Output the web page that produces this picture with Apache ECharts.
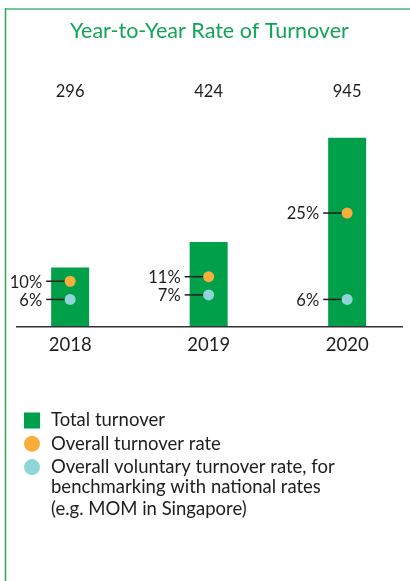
<!DOCTYPE html>
<html>
<head>
<meta charset="utf-8">
<script src="https://cdn.jsdelivr.net/npm/echarts@6/dist/echarts.min.js"></script>
<style>
  html, body { margin: 0; padding: 0; background: #fff; }
  #chart { width: 410px; height: 581px; }
</style>
</head>
<body>
<div id="chart"></div>
<script>
// Yearly figures
const years = ['2018', '2019', '2020'];
const totalTurnover = [296, 424, 945];
const overallRate = [10, 11, 25];
const voluntaryRate = [6, 7, 6];

const seriesNames = [
  'Total turnover',
  'Overall turnover rate',
  'Overall voluntary turnover rate, for benchmarking with national rates (e.g. MOM in Singapore)'
];
const voluntaryLegendLines = [
  'Overall voluntary turnover rate, for',
  'benchmarking with national rates',
  '(e.g. MOM in Singapore)'
];

const GREEN = '#00a04b';
const ORANGE = '#f9ad3c';
const TEAL = '#8fd4d6';
const INK = '#1e1e1e';
const FONT = 'Lato';

const chart = echarts.init(document.getElementById('chart'));

// Dot with a short leader line and a percentage label on its left
function rateItem(params, api) {
  const p = api.coord([api.value(0), api.value(1)]);
  return {
    type: 'group',
    children: [
      {
        type: 'line',
        shape: { x1: p[0] - 24, y1: p[1], x2: p[0], y2: p[1] },
        style: { stroke: INK, lineWidth: 1.5 }
      },
      {
        type: 'circle',
        shape: { cx: p[0], cy: p[1], r: 5.5 },
        style: { fill: api.visual('color') }
      },
      {
        type: 'text',
        x: p[0] - 28,
        y: p[1] + 1,
        style: {
          text: api.value(1) + '%',
          fill: INK,
          font: '16.5px ' + FONT,
          align: 'right',
          verticalAlign: 'middle'
        }
      }
    ]
  };
}

chart.setOption({
  animation: false,
  backgroundColor: '#fff',
  title: {
    text: 'Year-to-Year Rate of Turnover',
    left: 70,
    top: 20,
    padding: 0,
    textStyle: { color: '#12a457', fontSize: 21.5, fontWeight: 'normal', fontFamily: FONT }
  },
  grid: { left: 0.9, width: 415.5, top: 126.7, height: 200, outerBoundsMode: 'none', containLabel: false },
  xAxis: {
    type: 'category',
    data: years,
    axisLine: { show: false },
    axisTick: { show: false },
    axisLabel: { margin: 9, color: INK, fontSize: 18.5, fontFamily: FONT }
  },
  yAxis: [
    { type: 'value', min: 0, max: 1000, show: false },
    { type: 'value', min: 0, max: 44, show: false }
  ],
  legend: {
    orient: 'vertical',
    left: 24,
    top: 411,
    padding: 0,
    itemWidth: 16,
    itemHeight: 16,
    itemGap: 4.3,
    selectedMode: false,
    textStyle: { color: INK, fontSize: 18.5, lineHeight: 16, fontFamily: FONT, padding: [0, 0, 0, 6] },
    formatter: function (name) {
      return name === seriesNames[2] ? voluntaryLegendLines[0] : name;
    },
    data: [
      { name: seriesNames[0], icon: 'rect', itemStyle: { color: GREEN } },
      { name: seriesNames[1], icon: 'circle', itemStyle: { color: ORANGE } },
      { name: seriesNames[2], icon: 'circle', itemStyle: { color: TEAL } }
    ]
  },
  series: [
    {
      name: seriesNames[0],
      type: 'bar',
      data: totalTurnover,
      barWidth: 38,
      itemStyle: { color: GREEN },
      label: {
        show: true,
        position: 'top',
        color: INK,
        fontSize: 16.5,
        fontFamily: FONT
      },
      labelLayout: { y: 92, align: 'center', verticalAlign: 'middle' }
    },
    {
      name: seriesNames[1],
      type: 'custom',
      yAxisIndex: 1,
      itemStyle: { color: ORANGE },
      renderItem: rateItem,
      data: overallRate.map((v, i) => [i, v]),
      z: 3
    },
    {
      name: seriesNames[2],
      type: 'custom',
      yAxisIndex: 1,
      itemStyle: { color: TEAL },
      renderItem: rateItem,
      data: voluntaryRate.map((v, i) => [i, v]),
      z: 3
    }
  ],
  graphic: [
    // panel frame
    { type: 'line', shape: { x1: 5, y1: 9, x2: 410, y2: 9 }, style: { stroke: '#72c995', lineWidth: 2 } },
    { type: 'line', shape: { x1: 5.5, y1: 8, x2: 5.5, y2: 581 }, style: { stroke: '#2ba25c', lineWidth: 1.5 } },
    // baseline under the bars
    { type: 'line', shape: { x1: 16, y1: 326.7, x2: 403, y2: 326.7 }, style: { stroke: '#333', lineWidth: 1.5 }, z: 10 },
    // continuation of the last legend entry
    { type: 'text', x: 51, y: 487.5, style: { text: voluntaryLegendLines[1], fill: INK, font: '18.5px ' + FONT, verticalAlign: 'middle' } },
    { type: 'text', x: 51, y: 509, style: { text: voluntaryLegendLines[2], fill: INK, font: '18.5px ' + FONT, verticalAlign: 'middle' } }
  ]
});
</script>
</body>
</html>
